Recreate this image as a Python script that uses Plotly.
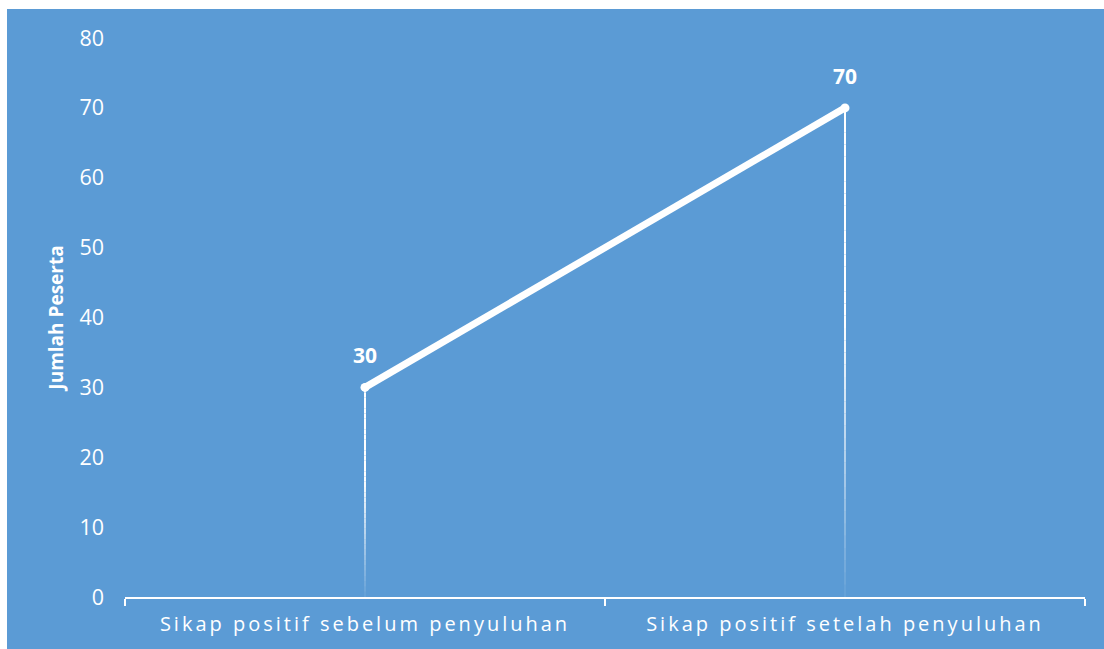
import plotly.graph_objects as go

categories = ["Sikap positif sebelum penyuluhan", "Sikap positif setelah penyuluhan"]
values = [30, 70]
y_ticks = [0, 10, 20, 30, 40, 50, 60, 70, 80]
y_title = "Jumlah Peserta"

BLUE = "#5B9BD5"
WHITE = "#FFFFFF"
FONT = "Open Sans"

fig = go.Figure()

# Gradient drop lines (white at top fading toward the axis), drawn as stacked segments
N = 40
for k in range(N):
    t0 = k / N
    t1 = (k + 1) / N
    alpha = min(1.0, 0.05 + ((t0 + t1) / 2) / 0.6)
    xs, ys = [], []
    for c, v in zip(categories, values):
        xs += [c, c, None]
        ys += [v * t0, v * t1, None]
    fig.add_trace(go.Scatter(
        x=xs, y=ys, mode="lines",
        line=dict(color=f"rgba(255,255,255,{alpha:.3f})", width=2),
        hoverinfo="skip", showlegend=False,
    ))

# Main line
fig.add_trace(go.Scatter(
    x=categories, y=values, mode="lines+markers",
    line=dict(color=WHITE, width=7),
    marker=dict(color=WHITE, size=9),
    showlegend=False,
))

# Data labels
for c, v in zip(categories, values):
    fig.add_annotation(
        x=c, y=v, text=f"<b>{v}</b>", showarrow=False,
        yanchor="middle", yshift=32,
        font=dict(family=FONT, size=21, color=WHITE),
    )

# Blue panel background
L, R, T, B = 125, 19, 38, 52
W, H = 1104, 649
pw, ph = W - L - R, H - T - B
fig.add_shape(
    type="rect", xref="paper", yref="paper", layer="below",
    x0=(7 - L) / pw, x1=(W - L) / pw,
    y0=(H - B - 649) / ph, y1=(H - B - 9) / ph,
    fillcolor=BLUE, line=dict(width=0),
)

fig.update_layout(
    width=W, height=H,
    margin=dict(l=L, r=R, t=T, b=B, pad=0),
    paper_bgcolor=WHITE,
    plot_bgcolor="rgba(0,0,0,0)",
    font=dict(family=FONT, color=WHITE),
    xaxis=dict(
        type="category", range=[-0.5, 1.5],
        showline=True, linecolor=WHITE, linewidth=2,
        ticks="outside", tickson="boundaries", ticklen=7, tickwidth=2, tickcolor=WHITE,
        showgrid=False, zeroline=False,
        ticklabelstandoff=8,
        tickfont=dict(family=FONT, size=20, color=WHITE),
    ),
    yaxis=dict(
        range=[0, 80], tickvals=y_ticks,
        showgrid=False, zeroline=False, showline=False,
        ticks="", ticklabelstandoff=20,
        tickfont=dict(family=FONT, size=21.5, color=WHITE),
        title=dict(text=f"<b>{y_title}</b>", font=dict(family=FONT, size=19, color=WHITE), standoff=10),
    ),
)

post = """
var s = document.createElement('style');
s.innerHTML = '.xtick text { letter-spacing: 3px; }';
document.head.appendChild(s);
"""
fig.write_html("out.html", post_script=post)
